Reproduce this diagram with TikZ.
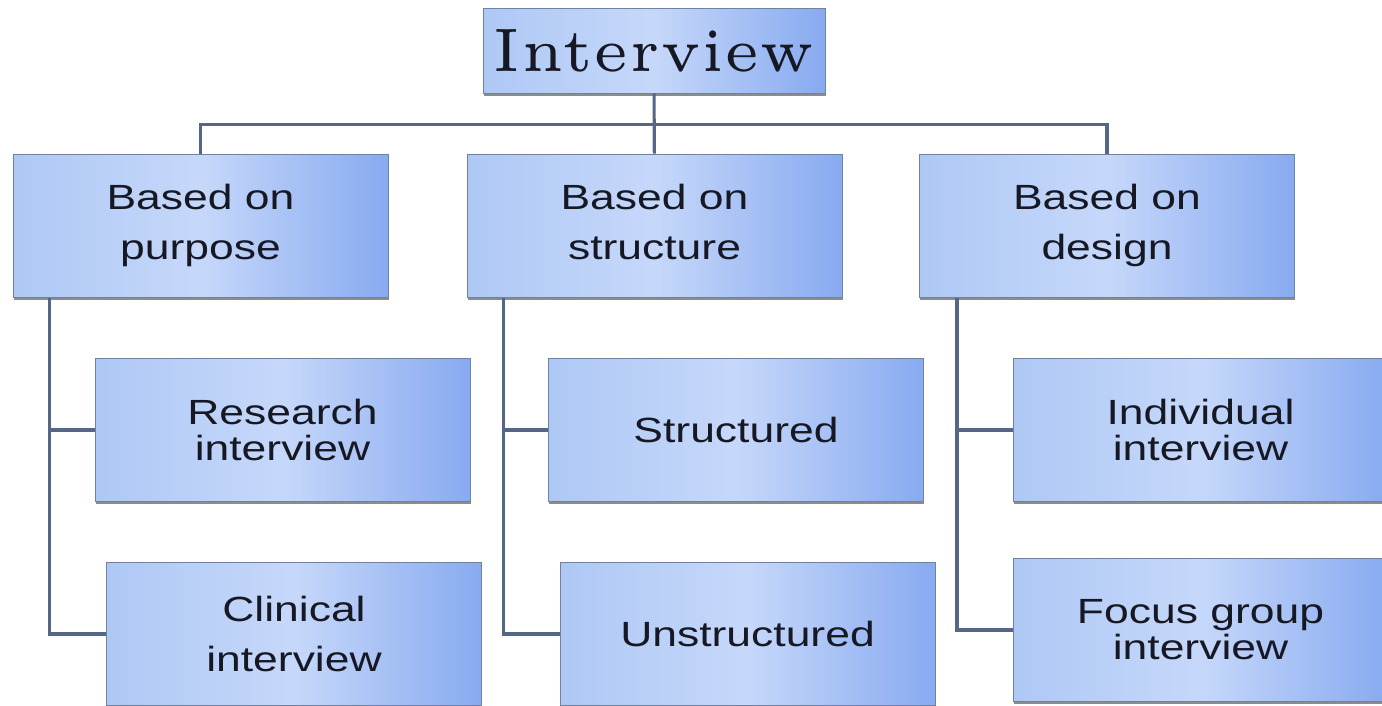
\documentclass[tikz,border=0pt]{standalone}
\usepackage{fontspec}
\setsansfont{Liberation Sans}[FakeStretch=1.27]
\usepackage{tikz}
\usetikzlibrary{positioning,shadows}
\definecolor{boxl}{RGB}{174,200,245}
\definecolor{boxm}{RGB}{198,216,250}
\definecolor{boxr}{RGB}{136,170,240}
\definecolor{edge}{RGB}{112,130,160}
\definecolor{wire}{RGB}{84,104,134}
\definecolor{ink}{RGB}{22,24,36}

\begin{document}
\begin{tikzpicture}[
  card/.style={rectangle, draw=edge, line width=0.7pt, inner sep=0pt,
               shading=axis, left color=boxl, right color=boxr, middle color=boxm,
               drop shadow={shadow xshift=0.6pt, shadow yshift=-1.8pt, opacity=0.6, fill=black!75},
               text=ink, align=center},
  topbox/.style={card, minimum width=8.55cm, minimum height=2.125cm,
                 font=\rmfamily\fontsize{5}{6}\selectfont},
  catbox/.style={card, minimum width=9.375cm, minimum height=3.575cm,
                 font=\sffamily\fontsize{24.9}{35.6}\selectfont},
  leafbox/.style={catbox},
  tight/.style={font=\sffamily\fontsize{24.9}{25.6}\selectfont},
  link/.style={draw=wire, line width=2.2pt}
]
\useasboundingbox (0,0) rectangle (34.55,-17.625);

\node[topbox] (interview) at (16.35,-1.2625) {\scalebox{8.2}[8.74]{Interview}};

\node[catbox] (purpose)   at (5.0125,-5.6375)  {Based on\\purpose};
\node[catbox] (structure) at (16.3625,-5.6375) {Based on\\structure\vphantom{p}};
\node[catbox] (design)    at (27.675,-5.6375)  {Based on\\design};

\node[leafbox, tight] (research)     at (7.0625,-10.75)  {Research\\interview};
\node[leafbox]        (clinical)     at (7.35,-15.85)    {Clinical\\interview};
\node[leafbox]        (structured)   at (18.4,-10.75)    {Structured};
\node[leafbox]        (unstructured) at (18.6875,-15.85) {Unstructured};
\node[leafbox, tight] (individual)   at (30.0125,-10.75) {Individual\\interview};
\node[leafbox, tight] (focus)        at (30.0125,-15.75) {Focus group\\interview};

% top level
\coordinate[below=0.775cm of interview] (hub);
\draw[link] (interview) -- (structure);
\draw[link] (purpose.north) |- (hub) -| (design.north);

% branches
\draw[link] ([xshift=0.925cm]purpose.south west) |- (research.west);
\draw[link] ([xshift=0.925cm]purpose.south west) |- (clinical.west);
\draw[link] ([xshift=0.925cm]structure.south west) |- (structured.west);
\draw[link] ([xshift=0.925cm]structure.south west) |- (unstructured.west);
\draw[link] ([xshift=0.95cm]design.south west) |- (individual.west);
\draw[link] ([xshift=0.95cm]design.south west) |- (focus.west);
\end{tikzpicture}
\end{document}
